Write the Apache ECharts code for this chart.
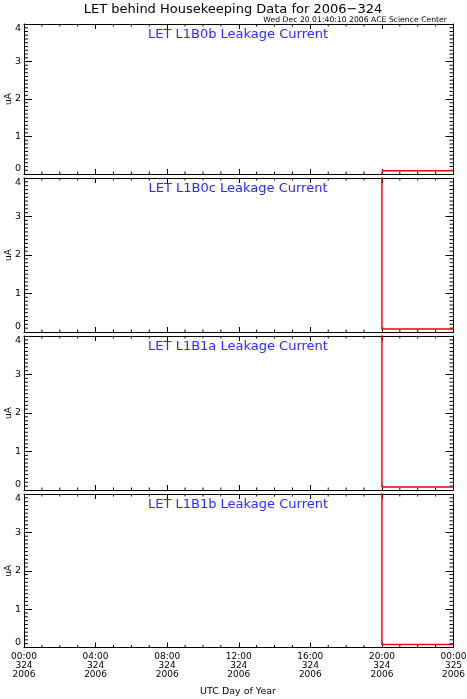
<!DOCTYPE html>
<html>
<head>
<meta charset="utf-8">
<script src="https://cdn.jsdelivr.net/npm/echarts@6/dist/echarts.min.js"></script>
<style>
html,body{margin:0;padding:0;background:#fff;}
#c{width:467px;height:699px;}
</style>
</head>
<body>
<div id="c"></div>
<script>
// ---- data ----
const panelNames = ['LET L1B0b Leakage Current', 'LET L1B0c Leakage Current', 'LET L1B1a Leakage Current', 'LET L1B1b Leakage Current'];
// time in hours of day 324 (2006)
const timesB0b = [20.0, 20.03, 24.0];
const valuesB0b = [0.0, 0.09, 0.09];
const timesB0c = [20.0, 20.0, 24.0];
const valuesB0c = [4.5, 0.08, 0.08];
const timesB1a = [20.0, 20.0, 24.0];
const valuesB1a = [4.5, 0.08, 0.08];
const timesB1b = [20.0, 20.0, 24.0];
const valuesB1b = [4.5, 0.08, 0.08];
const tickHours = [0, 4, 8, 12, 16, 20, 24];
const tickTimeLabels = ['00:00', '04:00', '08:00', '12:00', '16:00', '20:00', '00:00'];
const tickDayLabels = ['324', '324', '324', '324', '324', '324', '325'];
const tickYearLabels = ['2006', '2006', '2006', '2006', '2006', '2006', '2006'];
const yTicks = [0, 1, 2, 3, 4];
// minor tick positions (axis values)
const xMinorHours = [1, 2, 3, 5, 6, 7, 9, 10, 11, 13, 14, 15, 17, 18, 19, 21, 22, 23];
const yMinorValues = [0.1, 0.2, 0.3, 0.4, 0.5, 0.6, 0.7, 0.8, 0.9,
  1.1, 1.2, 1.3, 1.4, 1.5, 1.6, 1.7, 1.8, 1.9,
  2.1, 2.2, 2.3, 2.4, 2.5, 2.6, 2.7, 2.8, 2.9,
  3.1, 3.2, 3.3, 3.4, 3.5, 3.6, 3.7, 3.8, 3.9];
const titleText = 'LET behind Housekeeping Data for 2006\u2212324';
const stampText = 'Wed Dec 20 01:40:10 2006 ACE Science Center';
const xAxisTitle = 'UTC Day of Year';
const yAxisTitle = 'uA';

const seriesTimes = [timesB0b, timesB0c, timesB1a, timesB1b];
const seriesValues = [valuesB0b, valuesB0c, valuesB1a, valuesB1b];

// ---- layout ----
const FONT = 'DejaVu Sans';
const L = 24, R = 467 - 453.5;
const tops = [24, 178, 336, 494];
const bottoms = [174, 332, 490, 647.5];
const X_MIN = 0, X_MAX = 24, Y_MIN = 0, Y_MAX = 4;
const Y_MINOR_LEN = 4, X_MINOR_LEN = 2.5;

const grids = [], xAxes = [], yAxes = [], series = [], graphics = [];
const BLACK = '#000';

function addGrid(i) {
  grids.push({left: L, right: R, top: tops[i], height: bottoms[i] - tops[i], containLabel: false, outerBoundsMode: 'none'});
  return grids.length - 1;
}
function tickLine(x1, y1, x2, y2) {
  return {type: 'line', shape: {x1: x1, y1: y1, x2: x2, y2: y2}, style: {stroke: BLACK, lineWidth: 1}};
}

for (let i = 0; i < 4; i++) {
  // grid A: bottom major x (labels) + left major y (labels) + series
  const gA = addGrid(i);
  const xA = xAxes.length;
  xAxes.push({
    gridIndex: gA, type: 'value', min: X_MIN, max: X_MAX, interval: 4, position: 'bottom',
    axisLine: {show: true, onZero: false, lineStyle: {color: BLACK, width: 1}},
    axisTick: {show: true, inside: true, length: 5, lineStyle: {color: BLACK, width: 1}},
    splitLine: {show: false},
    axisLabel: {
      show: i === 3, fontFamily: FONT, fontSize: 9, color: BLACK, lineHeight: 9, margin: 5,
      formatter: function (v) {
        const k = tickHours.indexOf(v);
        if (k < 0) return '';
        return tickTimeLabels[k] + '\n' + tickDayLabels[k] + '\n' + tickYearLabels[k];
      }
    }
  });
  const yA = yAxes.length;
  yAxes.push({
    gridIndex: gA, type: 'value', min: Y_MIN, max: Y_MAX, interval: 1, position: 'left',
    axisLine: {show: true, lineStyle: {color: BLACK, width: 1}},
    axisTick: {show: true, inside: true, length: 8, lineStyle: {color: BLACK, width: 1}},
    splitLine: {show: false},
    name: yAxisTitle, nameLocation: 'middle', nameRotate: 90, nameGap: 11, nameMoveOverlap: false,
    nameTextStyle: {fontFamily: FONT, fontSize: 9, color: BLACK},
    axisLabel: {show: true, fontFamily: FONT, fontSize: 9.5, color: BLACK, margin: 3,
      verticalAlignMinLabel: 'bottom', verticalAlignMaxLabel: 'top',
      formatter: function (v) { return yTicks.indexOf(v) >= 0 ? String(v) : ''; }}
  });
  series.push({
    type: 'line', xAxisIndex: xA, yAxisIndex: yA,
    data: seriesTimes[i].map(function (t, k) { return [t, seriesValues[i][k]]; }),
    symbol: 'none', clip: true, animation: false, z: 5,
    lineStyle: {color: '#ff0000', width: 1.5}
  });

  // minor ticks on the left and right edges, placed through the y scale
  series.push({
    type: 'custom', xAxisIndex: xA, yAxisIndex: yA, silent: true, clip: false, animation: false, z: 4,
    data: yMinorValues.map(function (v) { return [X_MIN, v]; }),
    encode: {x: 0, y: 1},
    renderItem: function (params, api) {
      const v = api.value(1);
      const pl = api.coord([X_MIN, v]);
      const pr = api.coord([X_MAX, v]);
      return {type: 'group', children: [
        tickLine(pl[0], pl[1], pl[0] + Y_MINOR_LEN, pl[1]),
        tickLine(pr[0] - Y_MINOR_LEN, pr[1], pr[0], pr[1])
      ]};
    }
  });
  // minor ticks on the bottom and top edges, placed through the x scale
  series.push({
    type: 'custom', xAxisIndex: xA, yAxisIndex: yA, silent: true, clip: false, animation: false, z: 4,
    data: xMinorHours.map(function (h) { return [h, Y_MIN]; }),
    encode: {x: 0, y: 1},
    renderItem: function (params, api) {
      const h = api.value(0);
      const pb = api.coord([h, Y_MIN]);
      const pt = api.coord([h, Y_MAX]);
      return {type: 'group', children: [
        tickLine(pb[0], pb[1], pb[0], pb[1] - X_MINOR_LEN),
        tickLine(pt[0], pt[1], pt[0], pt[1] + X_MINOR_LEN)
      ]};
    }
  });

  // grid B: top major x + right major y
  const gB = addGrid(i);
  xAxes.push({
    gridIndex: gB, type: 'value', min: X_MIN, max: X_MAX, interval: 4, position: 'top',
    axisLine: {show: true, onZero: false, lineStyle: {color: BLACK, width: 1}},
    axisTick: {show: true, inside: true, length: 5, lineStyle: {color: BLACK, width: 1}},
    splitLine: {show: false}, axisLabel: {show: false}
  });
  yAxes.push({
    gridIndex: gB, type: 'value', min: Y_MIN, max: Y_MAX, interval: 1, position: 'right',
    axisLine: {show: true, onZero: false, lineStyle: {color: BLACK, width: 1}},
    axisTick: {show: true, inside: true, length: 8, lineStyle: {color: BLACK, width: 1}},
    splitLine: {show: false}, axisLabel: {show: false}
  });

  graphics.push({
    type: 'text', x: 238, y: tops[i] + 11,
    style: {text: panelNames[i], fill: '#2a2aff', font: '13px "' + FONT + '"', textAlign: 'center', textVerticalAlign: 'middle'}
  });
}

graphics.push({type: 'text', x: 233, y: 10,
  style: {text: titleText, fill: BLACK, font: '13px "' + FONT + '"', textAlign: 'center', textVerticalAlign: 'middle'}});
graphics.push({type: 'text', x: 447, y: 20,
  style: {text: stampText, fill: BLACK, font: '7.7px "' + FONT + '"', textAlign: 'right', textVerticalAlign: 'middle'}});
graphics.push({type: 'text', x: 238, y: 692,
  style: {text: xAxisTitle, fill: BLACK, font: '9.5px "' + FONT + '"', textAlign: 'center', textVerticalAlign: 'middle'}});

const chart = echarts.init(document.getElementById('c'), null, {renderer: 'canvas'});
chart.setOption({
  backgroundColor: '#fff',
  animation: false,
  grid: grids,
  xAxis: xAxes,
  yAxis: yAxes,
  series: series,
  graphic: graphics
});
</script>
</body>
</html>
